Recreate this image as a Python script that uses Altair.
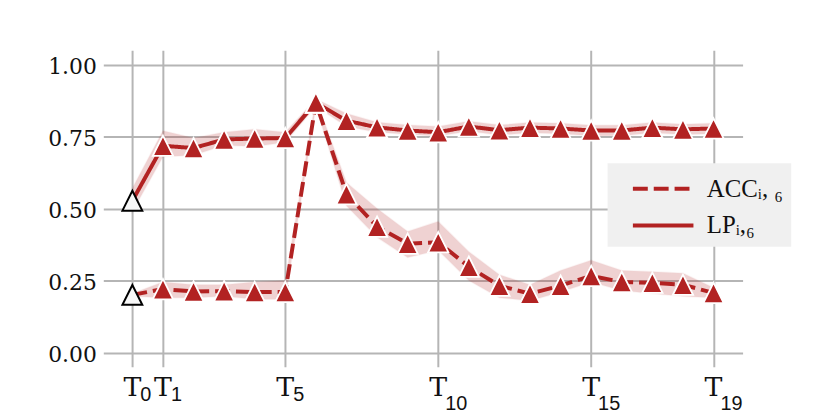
import altair as alt
import pandas as pd

# ---- data ----
steps = list(range(20))
series_names = ["ACCᵢ, ₆", "LPᵢ,₆"]

acc_mean = [0.200, 0.220, 0.212, 0.213, 0.210, 0.210, 0.868, 0.550, 0.437, 0.378, 0.383, 0.298, 0.232, 0.204, 0.232, 0.266, 0.245, 0.242, 0.235, 0.207]
acc_lo   = [0.195, 0.190, 0.190, 0.195, 0.185, 0.185, 0.855, 0.510, 0.400, 0.330, 0.355, 0.250, 0.190, 0.180, 0.210, 0.245, 0.215, 0.205, 0.195, 0.190]
acc_hi   = [0.205, 0.245, 0.235, 0.235, 0.245, 0.250, 0.880, 0.590, 0.500, 0.420, 0.455, 0.350, 0.270, 0.235, 0.285, 0.320, 0.285, 0.280, 0.275, 0.225]

lp_mean = [0.527, 0.718, 0.710, 0.740, 0.743, 0.745, 0.868, 0.805, 0.782, 0.771, 0.765, 0.785, 0.772, 0.781, 0.778, 0.771, 0.771, 0.781, 0.775, 0.778]
lp_lo   = [0.490, 0.680, 0.685, 0.720, 0.715, 0.730, 0.855, 0.785, 0.765, 0.758, 0.752, 0.768, 0.755, 0.763, 0.760, 0.753, 0.753, 0.763, 0.757, 0.760]
lp_hi   = [0.570, 0.770, 0.745, 0.765, 0.775, 0.765, 0.880, 0.830, 0.800, 0.790, 0.785, 0.803, 0.790, 0.799, 0.796, 0.789, 0.789, 0.799, 0.793, 0.796]

x_tick_values = [0, 1, 5, 10, 15, 19]
x_tick_subs = ["0", "1", "5", "10", "15", "19"]
y_tick_values = [0.0, 0.25, 0.5, 0.75, 1.0]

rows = []
for name, m, lo, hi in [(series_names[0], acc_mean, acc_lo, acc_hi),
                        (series_names[1], lp_mean, lp_lo, lp_hi)]:
    for s, a, b, c in zip(steps, m, lo, hi):
        rows.append({"step": s, "series": name, "mean": a, "lo": b, "hi": c})
df = pd.DataFrame(rows)
ticks_df = pd.DataFrame({"step": x_tick_values, "sub": x_tick_subs})

RED = "#b22222"
W, H = 644, 319
TRI = "M0,-1L1,1L-1,1Z"   # matplotlib-like '^' (as tall as it is wide)

xscale = alt.Scale(domain=[-0.95, 19.95], nice=False, zero=False)
yscale = alt.Scale(domain=[-0.05, 1.05], nice=False, zero=False)
xaxis = alt.Axis(values=x_tick_values, labels=False, ticks=False, domain=False,
                 grid=True, title=None)
yaxis = alt.Axis(values=y_tick_values, format=".2f", ticks=False, domain=False,
                 grid=True, title=None, labelPadding=7, labelFont="DejaVu Serif",
                 labelFontSize=22, labelColor="#111111", labelOffset=2)

X = alt.X("step:Q", scale=xscale, axis=xaxis)

band = alt.Chart(df).mark_area(
    color=RED, opacity=0.2, stroke=RED, strokeOpacity=0.25, strokeWidth=1.5
).encode(
    x=X,
    y=alt.Y("lo:Q", scale=yscale, axis=yaxis),
    y2="hi:Q",
    detail="series:N",
)

line = alt.Chart(df).mark_line(color=RED, strokeWidth=4).encode(
    x=X,
    y=alt.Y("mean:Q", scale=yscale, axis=yaxis),
    strokeDash=alt.StrokeDash(
        "series:N",
        scale=alt.Scale(domain=series_names, range=[[15, 6], [1, 0]]),
        legend=alt.Legend(
            title=None, orient="none", legendX=508, legendY=114,
            fillColor="#f0f0f0", padding=8, rowPadding=6,
            symbolType="M0,0H4", symbolSize=930, symbolStrokeWidth=4,
            symbolStrokeColor=RED, symbolFillColor="transparent",
            labelFont="Liberation Serif", labelFontSize=25, labelOffset=57,
            labelColor="#111111",
        ),
    ),
)

pts = alt.Chart(df).transform_filter("datum.step > 0").mark_point(
    shape=TRI, filled=True, fill=RED, stroke="white",
    strokeWidth=1.8, size=420, opacity=1
).encode(x=X, y=alt.Y("mean:Q", scale=yscale, axis=yaxis))

pts0 = alt.Chart(df).transform_filter("datum.step == 0").mark_point(
    shape=TRI, filled=True, fill="#f7f7f7", stroke="black",
    strokeWidth=2, size=400, opacity=1
).encode(x=X, y=alt.Y("mean:Q", scale=yscale, axis=yaxis))

t_main = alt.Chart(ticks_df).mark_text(
    text="T", font="DejaVu Serif", fontSize=27, align="center",
    baseline="alphabetic", color="#111111"
).encode(x=X, y=alt.value(H + 29))

t_sub1 = alt.Chart(ticks_df).transform_filter("length(datum.sub) == 1").mark_text(
    font="Liberation Sans", fontSize=20, align="left", baseline="alphabetic",
    dx=8, color="#111111"
).encode(x=X, y=alt.value(H + 34), text="sub:N")

t_sub2 = alt.Chart(ticks_df).transform_filter("length(datum.sub) == 2").mark_text(
    font="Liberation Sans", fontSize=20, align="left", baseline="alphabetic",
    dx=7, color="#111111"
).encode(x=X, y=alt.value(H + 43), text="sub:N")

chart = alt.layer(band, line, pts, pts0, t_main, t_sub1, t_sub2).properties(
    width=W, height=H,
    autosize=alt.AutoSizeParams(type="none"),
    padding={"left": 96, "top": 41, "right": 80, "bottom": 46},
    background="white",
).configure_view(stroke=None).configure_axis(
    gridColor="#b5b5b5", gridWidth=2
)

chart.save("out.html", embed_options={"renderer": "svg", "actions": False})
